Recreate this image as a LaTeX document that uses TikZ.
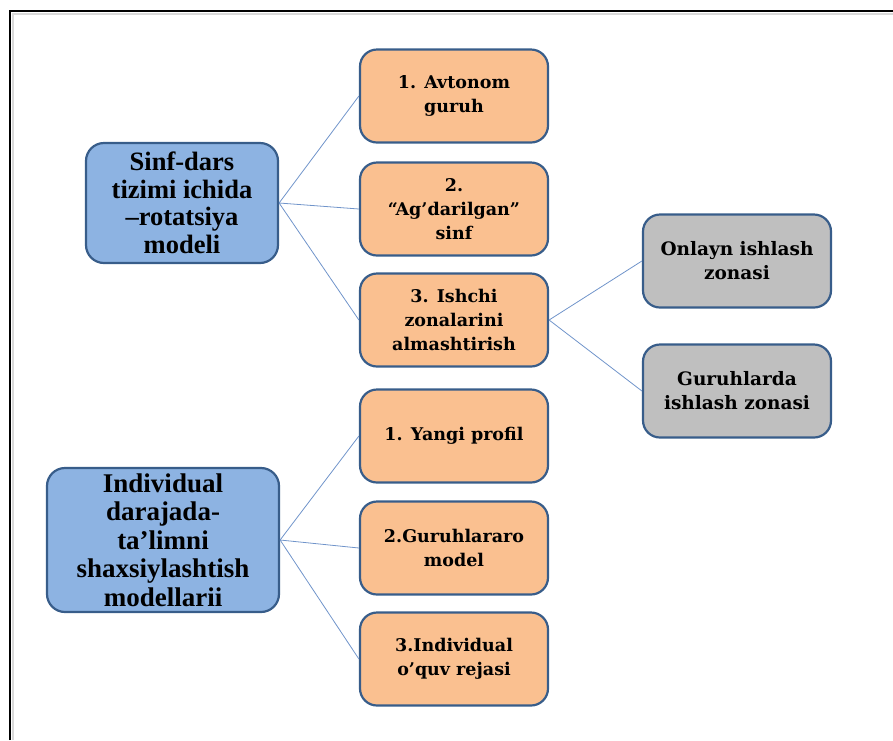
\documentclass[tikz,border=0pt]{standalone}
\usepackage{fontspec}
\setmainfont{Liberation Serif}
\newfontfamily\schfont{DejaVu Serif}
\usepackage{xcolor}
\definecolor{modelblue}{RGB}{141,179,226}
\definecolor{edgeblue}{RGB}{56,93,138}
\definecolor{stepfill}{RGB}{250,192,144}
\definecolor{zonefill}{RGB}{191,191,191}
\definecolor{linkblue}{RGB}{112,148,202}

\begin{document}
\begin{tikzpicture}[x=1pt,y=-1pt]
\tikzstyle{model} = [rounded corners=18pt, fill=modelblue, draw=edgeblue,
            line width=2.2pt, align=center, inner sep=0pt,
            font=\fontsize{26.5}{27.5}\selectfont\bfseries];
\tikzstyle{stepbox} = [rounded corners=17pt, fill=stepfill, draw=edgeblue,
            line width=2.2pt, align=center, inner sep=0pt,
            minimum width=188pt, minimum height=93pt,
            font=\schfont\fontsize{17.5}{24}\selectfont\bfseries];
\tikzstyle{zone} = [stepbox, fill=zonefill,
            font=\schfont\fontsize{18.5}{24}\selectfont\bfseries];
\tikzstyle{link} = [draw=linkblue, line width=0.8pt];

    \useasboundingbox (0,0) rectangle (893,740);

    % frame
    \draw[gray!30, line width=2pt] (13,740) -- (13,14) -- (893,14);
    \draw[black, line width=1.3pt] (10,740) -- (10,11) -- (893,11);

    % left models
    \node (ma) at (182,203) [model, minimum width=192pt, minimum height=120pt]
        {Sinf-dars\\tizimi ichida\\–rotatsiya\\modeli};
    \node (mb) at (163,540) [model, minimum width=232pt, minimum height=144pt,
        font=\fontsize{27}{28.5}\selectfont\bfseries]
        {Individual\\darajada-\\ta’limni\\shaxsiylashtish\\modellarii};

    % steps
    \node (a1) at (454,96)  [stepbox] {1. Avtonom\\guruh};
    \node (a2) at (454,209) [stepbox] {2.\\“Ag’darilgan”\\sinf};
    \node (a3) at (454,320) [stepbox] {3. Ishchi\\zonalarini\\almashtirish};
    \node (b1) at (454,436) [stepbox] {1. Yangi profil};
    \node (b2) at (454,548) [stepbox] {2.Guruhlararo\\model};
    \node (b3) at (454,659) [stepbox] {3.Individual\\o’quv rejasi};

    % zones
    \node (z1) at (737,261) [zone] {Onlayn ishlash\\zonasi};
    \node (z2) at (737,391) [zone] {Guruhlarda\\ishlash zonasi};

    \foreach \x in {1, 2, 3} {
        \draw[link] (ma.east) -- (a\x.west);
        \draw[link] (mb.east) -- (b\x.west);
    }
    \draw[link] (a3.east) -- (z1.west);
    \draw[link] (a3.east) -- (z2.west);

\end{tikzpicture}
\end{document}
